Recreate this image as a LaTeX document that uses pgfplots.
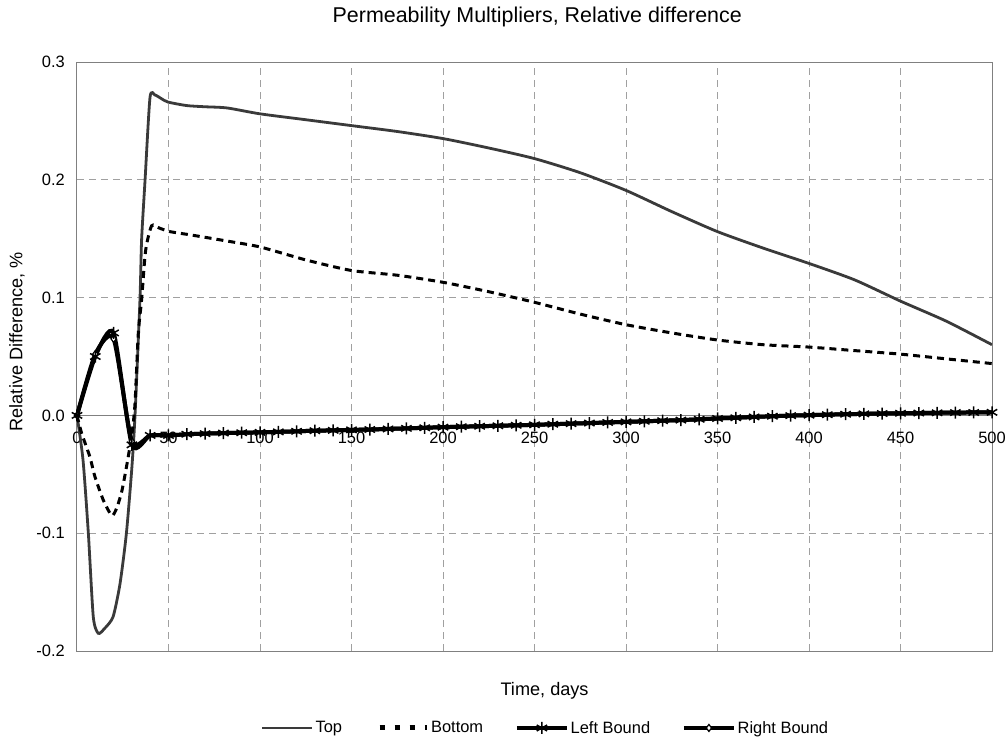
\documentclass[border=0pt]{standalone}
\usepackage{fontspec}
\setmainfont{Liberation Sans}
\usepackage{pgfplots}
\pgfplotsset{compat=1.18}

\definecolor{frameGray}{HTML}{808080}
\definecolor{gridGray}{HTML}{A0A0A0}
\definecolor{topGray}{HTML}{3A3A3A}

\pgfplotsset{
  topstyle/.style={topGray, line width=2.8bp},
  bottomstyle/.style={black, line width=3bp, dash pattern=on 7bp off 5bp},
  leftstyle/.style={black, line width=4bp, mark=asterisk, mark size=6bp,
    mark options={line width=1.5bp, solid}},
  rightstyle/.style={black, line width=4bp, mark=diamond*, mark size=3.5bp,
    mark options={fill=white, line width=1.2bp, solid}},
}

\begin{document}
\begin{tikzpicture}
\begin{axis}[
  scale only axis, width=915bp, height=589bp,
  xmin=0, xmax=500, ymin=-0.2, ymax=0.3,
  xtick={0,50,...,500},
  xticklabels={0,50,100,150,200,250,300,350,400,450,500},
  ytick={-0.2,-0.1,0,0.1,0.2,0.3},
  yticklabels={-0.2,-0.1,0.0,0.1,0.2,0.3},
  axis line style={frameGray, line width=1bp},
  major tick length=0pt,
  grid=major,
  major grid style={gridGray, line width=1bp, dash pattern=on 7bp off 5bp},
  extra y ticks={0}, extra y tick labels={},
  extra y tick style={grid=major, major grid style={frameGray, solid, line width=1bp}},
  tick label style={font=\fontsize{16.5}{18}\selectfont, inner sep=0pt},
  yticklabel style={anchor=east, xshift=-12bp},
  % x tick labels sit just under the zero line
  xticklabel style={anchor=north, yshift=219bp},
  title={Permeability Multipliers, Relative difference},
  title style={at={(0.503,1.066)}, anchor=center, font=\fontsize{21.5}{24}\selectfont},
  xlabel={Time, days},
  xlabel style={at={(0.511,-0.068)}, anchor=center, font=\fontsize{18.2}{20}\selectfont},
  ylabel={Relative Difference, \%},
  ylabel style={at={(-0.0656,0.525)}, anchor=center, font=\fontsize{18.2}{20}\selectfont},
  legend columns=4,
  legend style={at={(0.512,-0.1307)}, anchor=center, draw=none, fill=none,
    font=\fontsize{16.5}{18}\selectfont,
    nodes={inner sep=2bp},
    /tikz/every even column/.append style={column sep=30bp}},
  legend cell align=left,
  legend image code/.code={%
    \draw[#1, mark indices={2}] plot coordinates {(0bp,0bp) (25bp,0bp) (50bp,0bp)};},
]

% Top
\addplot[topstyle, smooth, tension=0.4, forget plot] coordinates {
  (0,0) (3.3,-0.038) (6.2,-0.10) (8.9,-0.171) (11.6,-0.185) (15,-0.181)
  (19.7,-0.171) (23.5,-0.143) (27,-0.10) (30,-0.044) (31.7,0) (34.4,0.098)
  (35.3,0.149) (37.2,0.200) (39.9,0.270) (42.6,0.272) (46,0.269) (49.7,0.266)
  (60,0.263) (70,0.262) (82,0.261) (100,0.256) (125,0.251) (150,0.246)
  (175,0.241) (200,0.235) (225,0.227) (250,0.218) (275,0.206) (300,0.191)
  (325,0.173) (350,0.156) (375,0.142) (400,0.129) (425,0.115) (450,0.097)
  (475,0.080) (500,0.060)
};

% Bottom
\addplot[bottomstyle, smooth, tension=0.4, forget plot] coordinates {
  (0,0) (2.5,-0.015) (7,-0.035) (9.8,-0.052) (14.4,-0.072) (19,-0.085)
  (21.6,-0.079) (24.4,-0.065) (27,-0.044) (30,-0.016) (31.7,0.010)
  (33.5,0.070) (35.3,0.098) (37.5,0.140) (40.8,0.161) (45,0.159)
  (50.8,0.156) (63,0.153) (82,0.148) (100,0.143) (125,0.132) (150,0.123)
  (175,0.119) (200,0.113) (225,0.105) (250,0.096) (275,0.086) (300,0.077)
  (325,0.070) (350,0.064) (375,0.060) (400,0.058) (425,0.055) (450,0.052)
  (475,0.048) (500,0.044)
};

% Right Bound (under the left one; its diamonds only show where the two differ)
\addplot[rightstyle, smooth, tension=0.4, mark indices={1,2,3,4}, forget plot] coordinates {
  (0,0) (10,0.052) (20,0.065) (30,-0.022) (40,-0.017) (50,-0.017)
  (60,-0.016) (70,-0.0155) (80,-0.015) (90,-0.0147) (100,-0.0144)
  (110,-0.0140) (120,-0.0135) (130,-0.0130) (140,-0.0127) (150,-0.0123)
  (160,-0.0120) (170,-0.0115) (180,-0.0110) (190,-0.0105) (200,-0.0100)
  (210,-0.0096) (220,-0.0092) (230,-0.0088) (240,-0.0084) (250,-0.0080)
  (260,-0.0075) (270,-0.0070) (280,-0.0065) (290,-0.0060) (300,-0.0055)
  (310,-0.0050) (320,-0.0045) (330,-0.0040) (340,-0.0033) (350,-0.0026)
  (360,-0.0020) (370,-0.0013) (380,-0.0007) (390,-0.0002) (400,0.0002)
  (410,0.0006) (420,0.0010) (430,0.0013) (440,0.0016) (450,0.0018)
  (460,0.0020) (470,0.0022) (480,0.0024) (490,0.0025) (500,0.0026)
};

% Left Bound
\addplot[leftstyle, smooth, tension=0.4, forget plot] coordinates {
  (0,0) (10,0.050) (20,0.070) (30,-0.025) (40,-0.017) (50,-0.017)
  (60,-0.016) (70,-0.0155) (80,-0.015) (90,-0.0147) (100,-0.0144)
  (110,-0.0140) (120,-0.0135) (130,-0.0130) (140,-0.0127) (150,-0.0123)
  (160,-0.0120) (170,-0.0115) (180,-0.0110) (190,-0.0105) (200,-0.0100)
  (210,-0.0096) (220,-0.0092) (230,-0.0088) (240,-0.0084) (250,-0.0080)
  (260,-0.0075) (270,-0.0070) (280,-0.0065) (290,-0.0060) (300,-0.0055)
  (310,-0.0050) (320,-0.0045) (330,-0.0040) (340,-0.0033) (350,-0.0026)
  (360,-0.0020) (370,-0.0013) (380,-0.0007) (390,-0.0002) (400,0.0002)
  (410,0.0006) (420,0.0010) (430,0.0013) (440,0.0016) (450,0.0018)
  (460,0.0020) (470,0.0022) (480,0.0024) (490,0.0025) (500,0.0026)
};

% legend samples
\addlegendimage{topstyle}
\addlegendentry{Top}
\addlegendimage{black, line width=5bp, dash pattern=on 5bp off 10bp, dash phase=-3bp}
\addlegendentry{Bottom}
\addlegendimage{leftstyle, line width=3.5bp}
\addlegendentry{Left Bound}
\addlegendimage{rightstyle, line width=3.5bp}
\addlegendentry{Right Bound}

\end{axis}
\pgfresetboundingbox
\path (-77bp,-91bp) rectangle (931bp,651bp);
\end{tikzpicture}
\end{document}
